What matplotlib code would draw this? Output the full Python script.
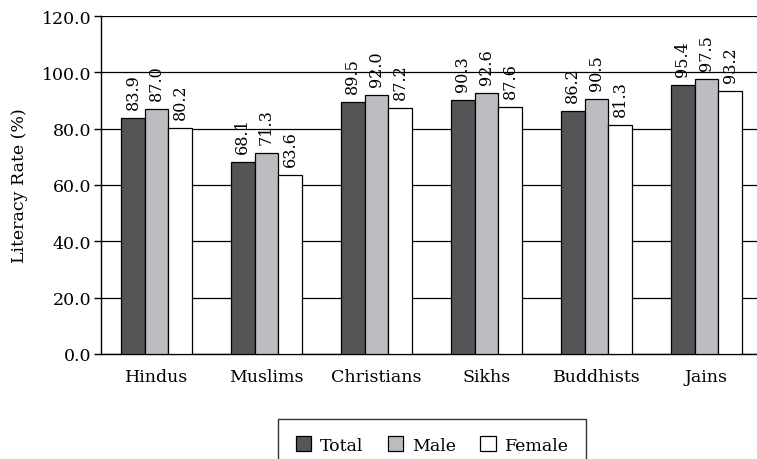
import matplotlib
matplotlib.use("Agg")
import matplotlib.pyplot as plt
import numpy as np

categories = ["Hindus", "Muslims", "Christians", "Sikhs", "Buddhists", "Jains"]
total = [83.9, 68.1, 89.5, 90.3, 86.2, 95.4]
male = [87.0, 71.3, 92.0, 92.6, 90.5, 97.5]
female = [80.2, 63.6, 87.2, 87.6, 81.3, 93.2]
series_names = ["Total", "Male", "Female"]
colors = ["#555558", "#bcbdc1", "#ffffff"]
yticks = [0, 20, 40, 60, 80, 100, 120]

plt.rcParams['font.family'] = ['DejaVu Serif']
fig = plt.figure(figsize=(7.57, 4.60), dpi=100)
ax = fig.add_axes([101/757, 1-355/460, 1-101/757, (355-17)/460])

x = np.arange(len(categories))
w = 0.215
for i, (vals, name, c) in enumerate(zip([total, male, female], series_names, colors)):
    pos = x + (i - 1) * w
    ax.bar(pos, vals, w, color=c, edgecolor="black", linewidth=0.9, label=name, zorder=3)
    for p, v in zip(pos, vals):
        ax.annotate(f"{v:.1f}", (p, v), xytext=(0, 6.5), textcoords="offset points",
                    rotation=90, ha="center", va="bottom", fontsize=11.5, zorder=4)

ax.set_xlim(-0.505, 5.46)
ax.set_ylim(0, 120)
ax.set_yticks(yticks)
ax.set_yticklabels([f"{t:.1f}" for t in yticks], fontsize=12.5)
ax.set_xticks(x)
ax.set_xticklabels(categories, fontsize=12.5)
ax.tick_params(axis="x", length=0, pad=10)
ax.tick_params(axis="y", length=5, width=1, direction="out", pad=2)
ax.yaxis.grid(True, color="black", linewidth=0.9, zorder=0)
ax.set_axisbelow(True)
for s in ["top", "right"]:
    ax.spines[s].set_visible(False)
ax.spines["left"].set_linewidth(1.0)
ax.spines["bottom"].set_linewidth(1.0)
ax.set_ylabel("Literacy Rate (%)", fontsize=12.5, labelpad=10)

leg = fig.legend(loc="upper center", bbox_to_anchor=(0.571, 1-420/460), ncol=3,
                 frameon=True, fancybox=False, edgecolor="black", fontsize=12.5,
                 handlelength=0.9, handleheight=0.9, columnspacing=1.4, handletextpad=0.5,
                 borderpad=1.0, borderaxespad=0)
leg.get_frame().set_linewidth(1.0)

fig.savefig("out.png", dpi=100)
